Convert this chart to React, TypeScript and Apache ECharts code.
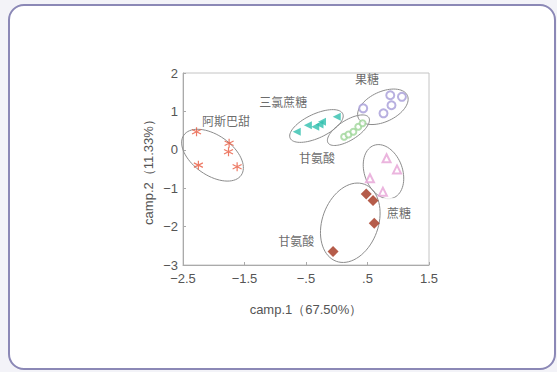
import React, { useEffect, useRef } from "react";
import * as echarts from "echarts";

const X_TICKS = [-2.5, -1.5, -0.5, 0.5, 1.5];
const Y_TICKS = [2, 1, 0, -1, -2, -3];

const aspartame = [[-2.28, 0.47], [-1.75, 0.17], [-1.76, -0.05], [-2.25, -0.4], [-1.62, -0.44]];
const sucralose = [[-0.65, 0.47], [-0.47, 0.64], [-0.35, 0.6], [-0.28, 0.66], [-0.24, 0.73], [0.0, 0.86]];
const glycineA = [[0.12, 0.34], [0.19, 0.4], [0.27, 0.47], [0.35, 0.6], [0.42, 0.69]];
const fructose = [[0.43, 1.08], [0.87, 1.42], [1.06, 1.38], [0.89, 1.16], [0.76, 0.95]];
const sucrose = [[0.81, -0.22], [0.98, -0.51], [0.54, -0.74], [0.75, -1.09]];
const glycineB = [[0.48, -1.15], [0.59, -1.32], [0.61, -1.91], [-0.06, -2.65]];

const ellipseCenters = [[-2.02, -0.14], [-0.33, 0.62], [0.19, 0.51], [0.75, 1.12], [0.76, -0.57], [0.22, -1.9]];
// rx, ry (px), rotation (deg, clockwise on screen)
const ellipseShapes = [[35, 20, 35], [29, 12, -25], [24, 10, -32], [27, 15, -25], [28, 19, 70], [41, 28, 110]];

const labelNames = ["阿斯巴甜", "三氯蔗糖", "甘氨酸", "果糖", "蔗糖", "甘氨酸"];
const labelAnchors = [[-1.8, 0.77], [-0.87, 1.26], [-0.32, -0.19], [0.49, 1.86], [1.11, -1.62], [-0.66, -2.35]];

const fmt = (v: number) => {
  const r = Math.round(v * 10) / 10;
  let s = String(Math.abs(r));
  if (s.startsWith("0.")) s = s.slice(1);
  return (r < 0 ? "\u2212" : "") + s;
};

export default function App() {
  const ref = useRef<HTMLDivElement>(null);
  useEffect(() => {
    if (!ref.current) return;
    const chart = echarts.init(ref.current, null, { renderer: "svg" });
    const font = "'Liberation Sans', Arial, sans-serif";
    const cjk = "'Noto Sans CJK SC', sans-serif";
    const asterisk = "path://M0,-5L0,5M-4.33,-2.5L4.33,2.5M-4.33,2.5L4.33,-2.5";
    chart.setOption({
      animation: false,
      grid: {
        left: 183,
        right: 128,
        top: 73,
        bottom: 107,
        show: true,
        borderColor: "#c4c4c4",
        borderWidth: 1,
      },
      xAxis: {
        type: "value",
        min: X_TICKS[0],
        max: X_TICKS[X_TICKS.length - 1],
        interval: 1,
        name: "camp.1（67.50%）",
        nameLocation: "middle",
        nameGap: 38,
        nameTextStyle: { color: "#555", fontSize: 13, fontFamily: font },
        axisLine: { show: true, onZero: false, lineStyle: { color: "#aaa" } },
        axisTick: { show: true, inside: true, length: 3, lineStyle: { color: "#aaa" } },
        splitLine: { show: false },
        axisLabel: { color: "#555", fontSize: 13, fontFamily: font, margin: 7, formatter: (v: number) => fmt(v) },
      },
      yAxis: {
        type: "value",
        min: Y_TICKS[Y_TICKS.length - 1],
        max: Y_TICKS[0],
        interval: 1,
        name: "camp.2（11.33%）",
        nameLocation: "middle",
        nameGap: 28,
        nameTextStyle: { color: "#555", fontSize: 13, fontFamily: font },
        axisLine: { show: true, onZero: false, lineStyle: { color: "#aaa" } },
        axisTick: { show: true, inside: true, length: 3, lineStyle: { color: "#aaa" } },
        splitLine: { show: false },
        axisLabel: { color: "#555", fontSize: 13, fontFamily: font, margin: 5, formatter: (v: number) => fmt(v) },
      },
      series: [
        {
          type: "custom",
          data: ellipseCenters.map((c, i) => [c[0], c[1], i]),
          renderItem: (params: any, api: any) => {
            const c = api.coord([api.value(0), api.value(1)]);
            const sh = ellipseShapes[api.value(2)];
            const th = (sh[2] * Math.PI) / 180;
            const pts: number[][] = [];
            for (let k = 0; k < 72; k++) {
              const t = (k / 72) * Math.PI * 2;
              const dx = sh[0] * Math.cos(t);
              const dy = sh[1] * Math.sin(t);
              pts.push([c[0] + dx * Math.cos(th) - dy * Math.sin(th), c[1] + dx * Math.sin(th) + dy * Math.cos(th)]);
            }
            return {
              type: "polygon",
              shape: { points: pts },
              style: { fill: "none", stroke: "#8c8c8c", lineWidth: 1 },
            };
          },
          z: 1,
        },
        {
          type: "scatter",
          data: aspartame,
          symbol: asterisk,
          symbolSize: 9,
          itemStyle: { color: "rgba(0,0,0,0)", borderColor: "#e8593e", borderWidth: 1.2 },
          z: 3,
        },
        {
          type: "scatter",
          data: sucralose,
          symbol: "triangle",
          symbolRotate: 90,
          symbolSize: 8,
          itemStyle: { color: "#2fbfae" },
          z: 3,
        },
        {
          type: "scatter",
          data: glycineA,
          symbol: "emptyCircle",
          symbolSize: 6,
          itemStyle: { color: "#9fd69a", borderWidth: 1 },
          z: 3,
        },
        {
          type: "scatter",
          data: fructose,
          symbol: "emptyCircle",
          symbolSize: 8,
          itemStyle: { color: "#a69cd8", borderWidth: 1 },
          z: 3,
        },
        {
          type: "scatter",
          data: sucrose,
          symbol: "emptyTriangle",
          symbolSize: 8,
          itemStyle: { color: "#e6a2d6", borderWidth: 1 },
          z: 3,
        },
        {
          type: "scatter",
          data: glycineB,
          symbol: "diamond",
          symbolSize: 11,
          itemStyle: { color: "#a3331d" },
          z: 3,
        },
        {
          type: "scatter",
          symbolSize: 0,
          silent: true,
          data: labelAnchors.map((p, i) => ({
            value: p,
            name: labelNames[i],
            label:
              i === 4
                ? { backgroundColor: "#fff", padding: [8, 16, 8, 4] }
                : {},
          })),
          label: {
            show: true,
            position: "inside",
            formatter: "{b}",
            color: "#444",
            fontSize: 12,
            fontFamily: cjk,
          },
          z: 5,
        },
      ],
    });
    return () => chart.dispose();
  }, []);
  return (
    <div style={{ position: "fixed", left: 0, top: 0, width: 557, height: 372, background: "#f3f3f8" }}>
      <div
        style={{
          position: "absolute",
          left: 8,
          top: 4,
          width: 544,
          height: 362,
          border: "2px solid #8b88b6",
          borderRadius: 16,
          background: "#fff",
        }}
      />
      <div ref={ref} style={{ position: "absolute", left: 0, top: 0, width: 557, height: 372 }} />
    </div>
  );
}
